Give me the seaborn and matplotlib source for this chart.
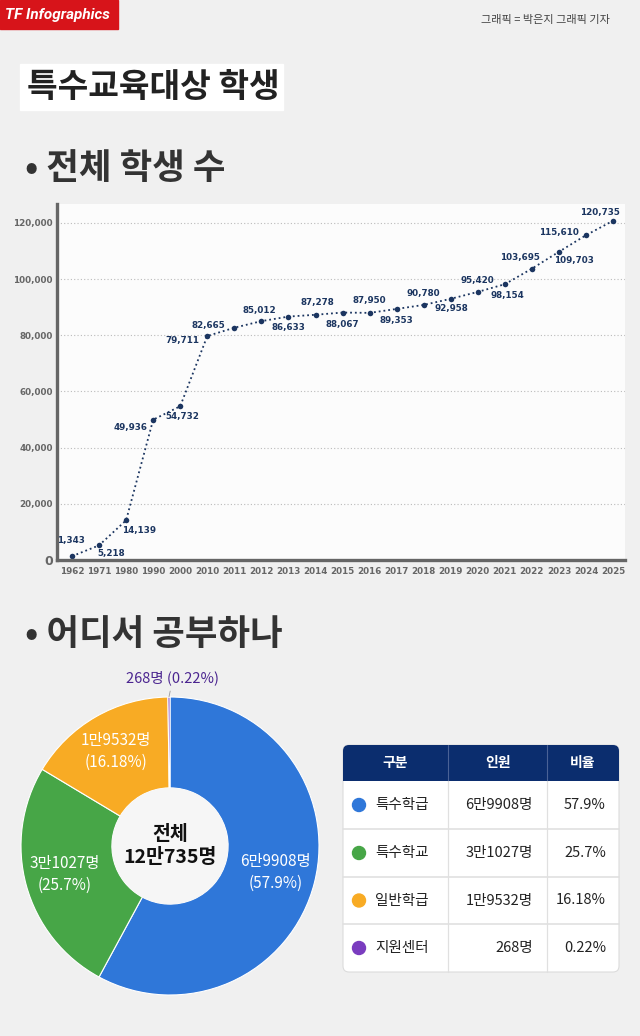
import matplotlib
matplotlib.use("Agg")
import matplotlib.pyplot as plt
import numpy as np
import pandas as pd
import seaborn as sns
from matplotlib.patches import FancyBboxPatch, Rectangle, Circle
from matplotlib.ticker import FuncFormatter

# --- data -------------------------------------------------------------
YEARS = ['1962', '1971', '1980', '1990', '2000', '2010', '2011', '2012', '2013', '2014', '2015',
         '2016', '2017', '2018', '2019', '2020', '2021', '2022', '2023', '2024', '2025']
STUDENTS = [1343, 5218, 14139, 49936, 54732, 79711, 82665, 85012, 86633, 87278, 88067,
            87950, 89353, 90780, 92958, 95420, 98154, 103695, 109703, 115610, 120735]

PLACE_NAMES = ['특수학급', '특수학교', '일반학급', '지원센터']
PLACE_COUNTS = [69908, 31027, 19532, 268]
PLACE_COUNT_LABELS = ['6만9908명', '3만1027명', '1만9532명', '268명']
PLACE_SHARE_LABELS = ['57.9%', '25.7%', '16.18%', '0.22%']
TOTAL_LABEL = '12만735명'

# --- style ------------------------------------------------------------
BG = '#f0f0f0'
NAVY = '#1b3560'
HEADER_NAVY = '#0b2d6e'
PLACE_COLORS = ['#2f77d9', '#47a647', '#f8ab24', '#7a3cbf']
# where each value label sits relative to its point (px right, px down)
LABEL_OFFSETS = [(-1, -16), (12, 8), (13, 10), (-23, 8), (2, 10), (-25, 4), (-26, -2),
                 (-2, -11), (0, 11), (2, -12), (0, 12), (0, -12), (0, 12), (0, -11),
                 (1, 10), (0, -11), (2, 11), (-12, -11), (15, 9), (-27, -3), (-13, -8)]

sns.set_theme(style='white')
plt.rcParams['font.family'] = ['Noto Sans CJK KR', 'DejaVu Sans']

W, H = 640, 1036


def frac(x0, y0, x1, y1):
    return [x0 / W, 1 - y1 / H, (x1 - x0) / W, (y1 - y0) / H]


fig = plt.figure(figsize=(6.4, 10.36), dpi=100, facecolor=BG)
canvas = fig.add_axes([0, 0, 1, 1])
canvas.set_xlim(0, W)
canvas.set_ylim(H, 0)
canvas.axis('off')

# header
canvas.add_patch(Rectangle((0, 0), 118, 29, color='#d7141a'))
canvas.text(5, 15, 'TF Infographics', color='white', fontsize=11, fontweight='bold',
            fontstyle='italic', va='center', family=['Roboto', 'DejaVu Sans'])
canvas.text(610, 20, '그래픽 = 박은지 그래픽 기자', color='#444444', fontsize=8, ha='right', va='center')
canvas.add_patch(Rectangle((20, 64), 263, 46, color='white'))
canvas.text(27, 88, '특수교육대상 학생', fontsize=24, fontweight='black', color='#222222', va='center')
canvas.text(25, 168, '• 전체 학생 수', fontsize=25.5, fontweight='bold', color='#333333', va='center')
canvas.text(25, 635, '• 어디서 공부하나', fontsize=25.5, fontweight='bold', color='#333333', va='center')

# --- line chart -------------------------------------------------------
ax = fig.add_axes(frac(57, 204, 625, 560))
trend = pd.DataFrame({'pos': range(len(YEARS)), 'year': YEARS, 'students': STUDENTS})
sns.lineplot(data=trend, x='pos', y='students', ax=ax, color=NAVY, linestyle=':', linewidth=1.3,
             marker='o', markersize=4, markeredgewidth=0)
ax.set_facecolor('#fcfcfc')
ax.set_xlim(-0.555, 20.44)
ax.set_ylim(0, 126700)
ax.set_yticks(range(0, 120001, 20000))
ax.yaxis.set_major_formatter(FuncFormatter(lambda v, _: f'{int(v):,}'))
ax.set_xticks(trend['pos'])
ax.set_xticklabels(YEARS)
ax.set_xlabel('')
ax.set_ylabel('')
ax.yaxis.grid(True, linestyle=(0, (1, 2)), color='#bbbbbb', linewidth=0.8)
for side in ['top', 'right']:
    ax.spines[side].set_visible(False)
for side in ['left', 'bottom']:
    ax.spines[side].set_color('#666666')
    ax.spines[side].set_linewidth(2.4)
ax.tick_params(axis='both', length=0, colors='#666666', labelsize=6.3)
ax.tick_params(axis='y', pad=3)
ax.tick_params(axis='x', pad=5)
for lab in ax.get_xticklabels() + ax.get_yticklabels():
    lab.set_fontweight('bold')
    lab.set_family('DejaVu Sans')
ax.get_yticklabels()[0].set_fontsize(9)
for i, v in enumerate(STUDENTS):
    dx, dy = LABEL_OFFSETS[i]
    ax.annotate(f'{v:,}', (i, v), xytext=(dx, -dy), textcoords='offset pixels', ha='center',
                va='center', fontsize=6.3, fontweight='bold', color=NAVY, family='DejaVu Sans')

# --- donut ------------------------------------------------------------
ax2 = fig.add_axes(frac(21, 697, 319, 995))
wedges, _ = ax2.pie(PLACE_COUNTS, colors=PLACE_COLORS, startangle=90, counterclock=False, radius=1,
                    wedgeprops=dict(width=0.61, edgecolor='white', linewidth=0.8))
ax2.set_xlim(-1, 1)
ax2.set_ylim(-1, 1)
ax2.add_patch(Circle((0, 0), 0.39, facecolor='#f6f6f6', edgecolor='none'))
for w, cnt, share in zip(wedges[:3], PLACE_COUNT_LABELS[:3], PLACE_SHARE_LABELS[:3]):
    th = np.deg2rad((w.theta1 + w.theta2) / 2)
    ax2.text(0.73 * np.cos(th), 0.73 * np.sin(th), f'{cnt}\n({share})', ha='center', va='center',
             color='white', fontsize=11, linespacing=1.35)
w = wedges[3]
th = np.deg2rad((w.theta1 + w.theta2) / 2)
ax2.annotate(f'{PLACE_COUNT_LABELS[3]} ({PLACE_SHARE_LABELS[3]})', (np.cos(th), np.sin(th)),
             xytext=(0.02, 1.13), ha='center', va='center', color='#4b2590', fontsize=10.5,
             fontweight='medium', annotation_clip=False,
             arrowprops=dict(arrowstyle='-', color='#999999', lw=0.6, shrinkA=2, shrinkB=0))
ax2.text(0, 0, f'전체\n{TOTAL_LABEL}', ha='center', va='center', fontsize=14, fontweight='bold',
         color='#111111', linespacing=1.25)

# --- table ------------------------------------------------------------
tx0, tx1, ty0, th_y, ty1 = 343, 619, 745, 781, 972
cols = [343, 448, 547, 619]
rows = [781, 829, 877, 924, 972]
canvas.add_patch(FancyBboxPatch((tx0, ty0), tx1 - tx0, ty1 - ty0, boxstyle='round,pad=0,rounding_size=6',
                                facecolor='white', edgecolor='#dcdcdc', linewidth=0.8))
canvas.add_patch(FancyBboxPatch((tx0, ty0), tx1 - tx0, th_y - ty0, boxstyle='round,pad=0,rounding_size=6',
                                facecolor=HEADER_NAVY, edgecolor='none'))
canvas.add_patch(Rectangle((tx0, ty0 + 10), tx1 - tx0, th_y - ty0 - 10, facecolor=HEADER_NAVY, edgecolor='none'))
for cx in cols[1:3]:
    canvas.plot([cx, cx], [ty0, th_y], color='#4a6296', lw=0.8)
    canvas.plot([cx, cx], [th_y, ty1], color='#e0e0e0', lw=0.9)
for ry in rows[1:4]:
    canvas.plot([tx0, tx1], [ry, ry], color='#e0e0e0', lw=1.2)
for head, a, b in zip(['구분', '인원', '비율'], cols[:-1], cols[1:]):
    canvas.text((a + b) / 2, (ty0 + th_y) / 2, head, color='white', fontsize=10, fontweight='bold',
                ha='center', va='center')
for i, (name, cnt, share, col) in enumerate(zip(PLACE_NAMES, PLACE_COUNT_LABELS, PLACE_SHARE_LABELS, PLACE_COLORS)):
    yc = (rows[i] + rows[i + 1]) / 2
    canvas.add_patch(Circle((359, yc), 6.5, color=col))
    canvas.text(375, yc, name, fontsize=10.5, color='#222222', va='center')
    canvas.text(533, yc, cnt, fontsize=10.5, color='#222222', va='center', ha='right')
    canvas.text(606, yc, share, fontsize=10.5, color='#222222', va='center', ha='right')

fig.savefig('out.png', dpi=100, facecolor=BG)
